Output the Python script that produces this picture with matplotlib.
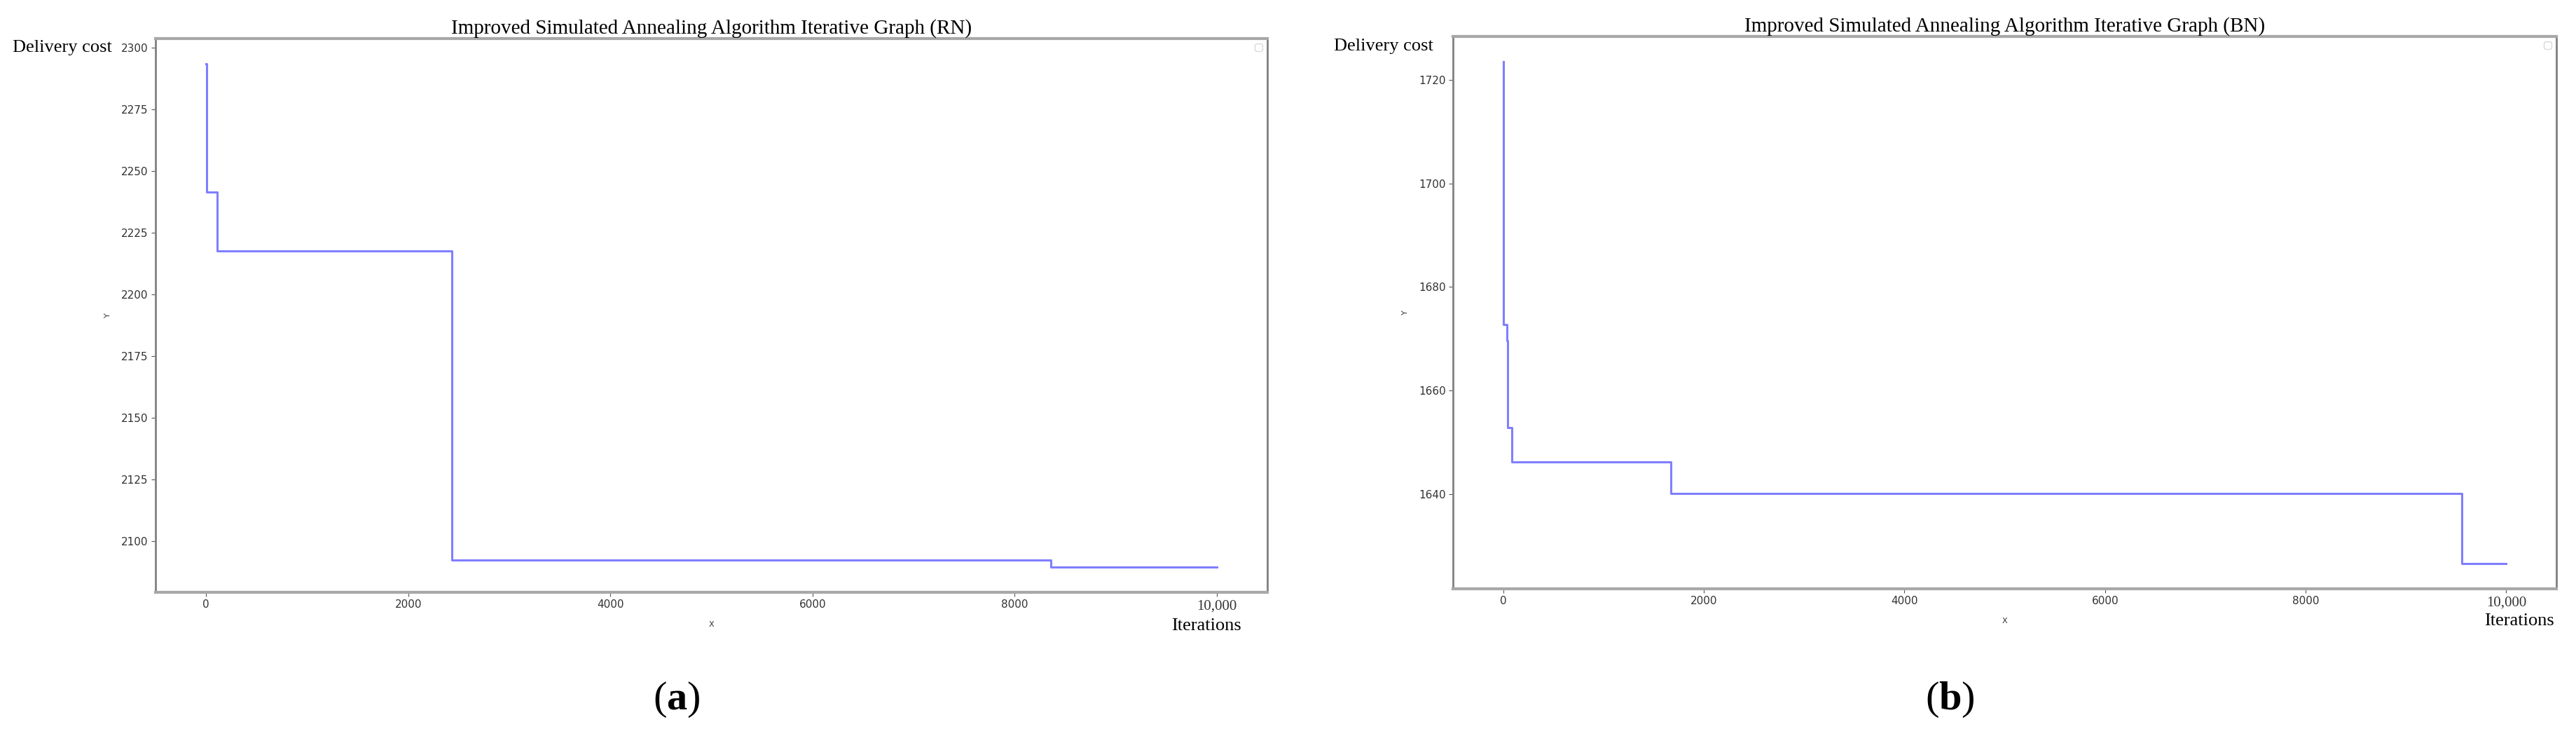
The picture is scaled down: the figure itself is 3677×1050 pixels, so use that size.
import matplotlib
matplotlib.use('Agg')
import matplotlib.pyplot as plt

plt.rcParams['font.family'] = ['DejaVu Sans']
plt.rcParams['mathtext.fontset'] = 'custom'
plt.rcParams['mathtext.rm'] = 'Liberation Serif'
plt.rcParams['mathtext.bf'] = 'Liberation Serif:bold'

# best cost found so far (steps)
rn_iter = [0, 3, 8, 110, 2430, 8360, 10000]
rn_cost = [2293.4, 2255.0, 2241.3, 2217.6, 2092.3, 2089.5, 2089.5]

bn_iter = [0, 2, 5, 35, 46, 88, 1670, 9555, 10000]
bn_cost = [1723.5, 1685.6, 1672.8, 1669.7, 1652.9, 1646.3, 1640.1, 1626.6, 1626.6]

titles = ["Improved Simulated Annealing Algorithm Iterative Graph (RN)",
          "Improved Simulated Annealing Algorithm Iterative Graph (BN)"]
x_ticks = [0, 2000, 4000, 6000, 8000, 10000]
x_ticklabels = ['0', '2000', '4000', '6000', '8000', '10,000']
panel_tags = ['a', 'b']

serif = 'Liberation Serif'

fig = plt.figure(figsize=(36.77, 10.5), dpi=100)
ax_l = fig.add_axes([0.0604, 0.1952, 0.4316, 0.7524])
ax_r = fig.add_axes([0.5641, 0.2, 0.4283, 0.7505])

series = [(rn_iter, rn_cost), (bn_iter, bn_cost)]
for i, ax in enumerate([ax_l, ax_r]):
	xs, ys = series[i]
	ax.plot(xs, ys, drawstyle='steps-post', color='blue', alpha=0.5, lw=2.2)
	ax.set_title(titles[i], family=serif, fontsize=21, pad=5)
	ax.set_xticks(x_ticks)
	ax.set_xticklabels(x_ticklabels)
	ax.tick_params(labelsize=11, labelcolor='#333333', color='#555555', length=4)
	last = ax.get_xticklabels()[-1]
	last.set_family(serif)
	last.set_fontsize(15)
	ax.set_xlabel('X', fontsize=8, color='#333333', labelpad=8)
	ax.set_ylabel('Y', fontsize=8, color='#333333', labelpad=10)
	for s in ['top', 'bottom']:
		ax.spines[s].set_color('#a8a8a8')
		ax.spines[s].set_linewidth(3)
	for s in ['left', 'right']:
		ax.spines[s].set_color('#808080')
		ax.spines[s].set_linewidth(2)
	# empty legend box, as in the original output
	lg = ax.legend(handles=[], loc='upper right')
	lg.get_frame().set_edgecolor('#d0d0d0')

ax_r.set_yticks([1640, 1660, 1680, 1700, 1720])

# hand-added axis names
fig.text(18 / 3677, 1 - 68 / 1050, 'Delivery cost', family=serif, fontsize=19, va='center')
fig.text(1904 / 3677, 1 - 66 / 1050, 'Delivery cost', family=serif, fontsize=19, va='center')
fig.text(1672 / 3677, 1 - 893 / 1050, 'Iterations', family=serif, fontsize=19, va='center')
fig.text(3546 / 3677, 1 - 886 / 1050, 'Iterations', family=serif, fontsize=19, va='center')

fig.text(966 / 3677, 0.05, r'$\mathrm{(}\mathbf{%s}\mathrm{)}$' % panel_tags[0], fontsize=42, ha='center', va='center')
fig.text(2783 / 3677, 0.05, r'$\mathrm{(}\mathbf{%s}\mathrm{)}$' % panel_tags[1], fontsize=42, ha='center', va='center')

fig.savefig('out.png', dpi=100, facecolor='white')
